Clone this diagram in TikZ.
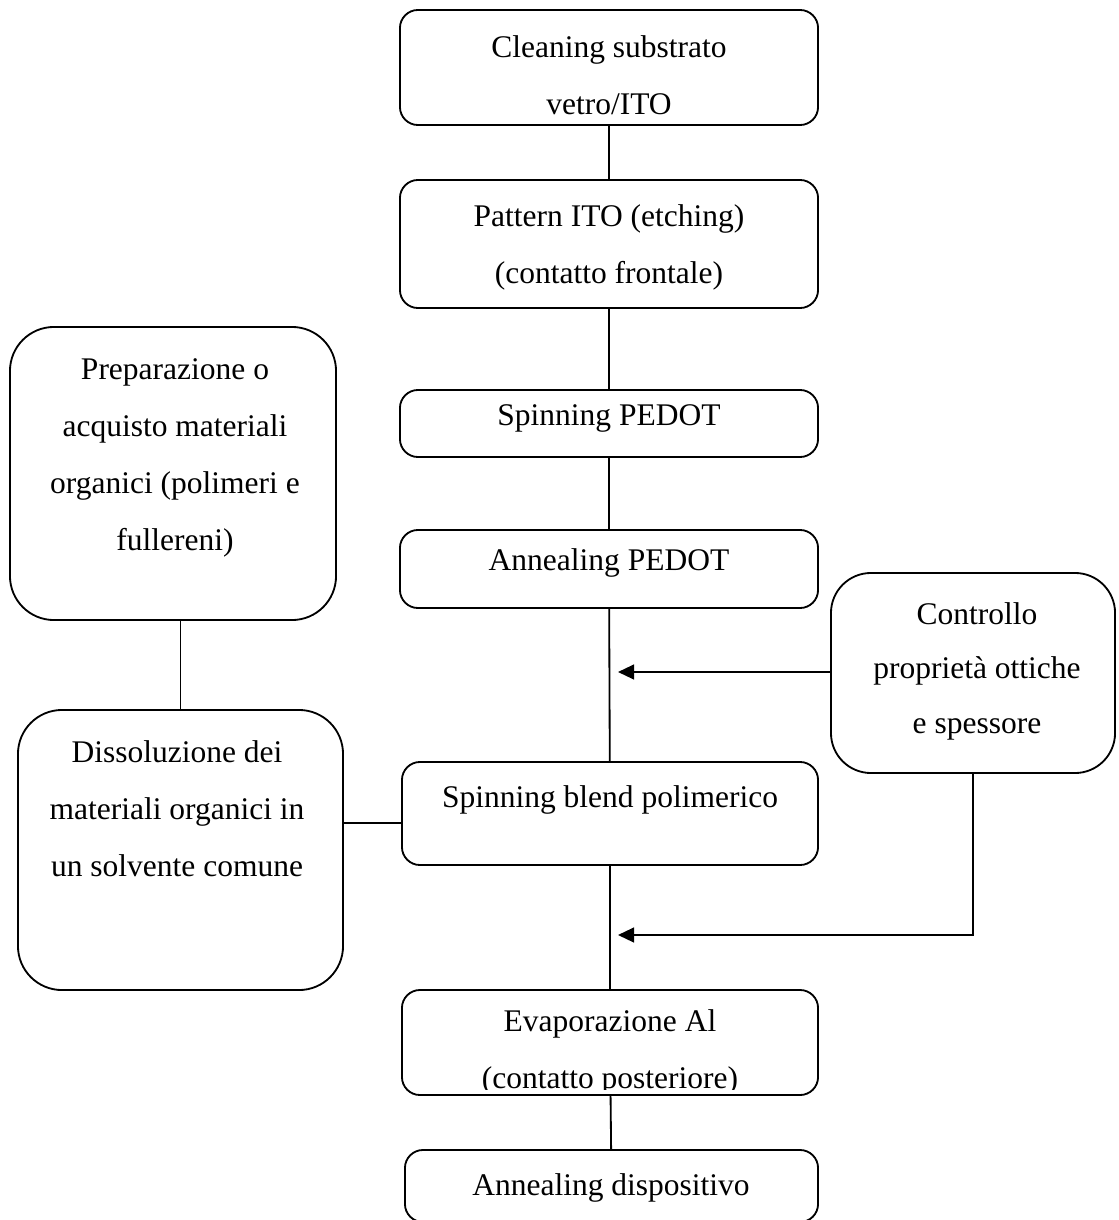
\documentclass[tikz,border=0pt]{standalone}
\usepackage{fontspec}
\setmainfont{Liberation Serif}
\usetikzlibrary{arrows.meta}

\begin{document}
\begin{tikzpicture}[x=0.025cm,y=-0.025cm,line width=1.3pt]
\useasboundingbox (0,0) rectangle (1118,1220);
% boxes
\begin{scope}[every node/.style={rectangle,rounded corners=0.45cm,draw,
              line width=1.3pt,inner sep=0pt,minimum width=10.45cm}]
    \node[minimum height=2.875cm] (clean) at (609,67.5) {};
    \node[minimum height=3.2cm] (pattern) at (609,244) {};
    \node[minimum height=1.675cm] (spinP) at (609,423.5) {};
    \node[minimum height=1.95cm] (annP) at (609,569) {};
    \node[minimum width=10.4cm,minimum height=2.575cm] (spinB) at (610,813.5) {};
    \node[minimum width=10.4cm,minimum height=2.625cm] (evap) at (610,1042.5) {};
    \node[minimum width=10.325cm,minimum height=1.8cm] (annD) at (611.5,1186) {};
    \node[rounded corners=1.1cm,minimum width=8.15cm,minimum height=7.325cm] (prep) at (173,473.5) {};
    \node[rounded corners=1.1cm,minimum width=8.125cm,minimum height=7cm] (diss) at (180.5,850) {};
    \node[rounded corners=1cm,minimum width=7.1cm,minimum height=5cm] (ctrl) at (973,673) {};
\end{scope}
% texts
\begin{scope}[every node/.style={anchor=north,inner sep=0pt,align=center,
              font=\fontsize{22.4}{40.5}\selectfont,execute at begin node=\strut}]
    \begin{scope}
        \clip (400,10) rectangle (818,115);
        \node (cleanT) at (609,35) {Cleaning substrato\\vetro/ITO};
    \end{scope}
    \node (patternT) at (609,204) {Pattern ITO (etching)\\(contatto frontale)};
    \node (spinPT) at (609,385) {Spinning PEDOT};
    \node (annPT) at (609,530) {Annealing PEDOT};
    \node (spinBT) at (610,767) {Spinning blend polimerico};
    \begin{scope}
        \clip (402,990) rectangle (818,1089);
        \node (evapT) at (610,1009) {Evaporazione Al\\(contatto posteriore)};
    \end{scope}
    \node (annDT) at (611,1155) {Annealing dispositivo};
    \node (prepT) at (175,358) {Preparazione o\\acquisto materiali\\organici (polimeri e\\fullereni)};
    \node (dissT) at (177,740) {Dissoluzione dei\\materiali organici in\\un solvente comune};
    \node[font=\fontsize{22.4}{38.5}\selectfont] (ctrlT) at (977,602) {Controllo\\propriet\`a ottiche\\e spessore};
\end{scope}
\coordinate (in1) at (618,672);
\coordinate (in2) at (618,935);
\coordinate (j) at (0,823);
% connectors
\begin{scope}[>={Triangle[length=4mm,width=3.7mm]},
              every edge/.style={draw,line width=1.3pt}]
    \path [-] (clean) edge (pattern);
    \path [-] (pattern) edge (spinP);
    \path [-] (spinP) edge (annP);
    \path [-] (annP) edge (spinB);
    \path [-] (spinB) edge (evap);
    \path [-] (evap) edge (annD);
    \path [-] (prep.south -| diss) edge (diss);
    \path [-] (diss.east |- j) edge (spinB.west |- j);
    \path [->] (ctrl.west |- in1) edge (in1);
    \draw [->] (ctrl.south) |- (in2);
\end{scope}
\end{tikzpicture}
\end{document}
